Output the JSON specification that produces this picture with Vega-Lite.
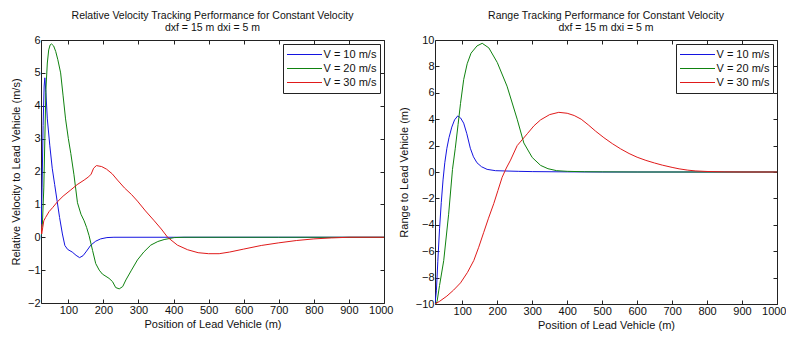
{
  "$schema": "https://vega.github.io/schema/vega-lite/v6.json",
  "background": "white",
  "padding": {"left": 9, "top": 10, "right": 5, "bottom": 5},
  "bounds": "flush",
  "spacing": 51,
  "config": {
    "font": "Liberation Sans",
    "view": {"stroke": "#222", "strokeWidth": 1},
    "axis": {"domain": false, "grid": false, "tickColor": "#222", "tickSize": -4, "labelFont": "Liberation Sans", "labelFontSize": 11, "labelColor": "#111", "titleFont": "Liberation Sans", "titleFontSize": 11, "titleFontWeight": "normal", "titleColor": "#111", "labelPadding": 5, "labelOverlap": false},
    "axisY": {"labelFlush": false},
    "axisX": {"labelFlush": 1, "labelFlushOffset": 9, "format": "d"},
    "title": {"font": "Liberation Sans", "fontSize": 10.5, "fontWeight": "normal", "color": "#111", "lineHeight": 11.5},
    "legend": {"labelFont": "Liberation Sans", "labelFontSize": 11, "labelColor": "#111"}
  },
  "datasets": {
    "velocity": [
      {"V": "V = 10 m/s", "x": 22, "y": 0.05}, {"V": "V = 10 m/s", "x": 25, "y": 1.5}, {"V": "V = 10 m/s", "x": 28, "y": 3.4}, {"V": "V = 10 m/s", "x": 31, "y": 4.6}, {"V": "V = 10 m/s", "x": 33, "y": 4.85}, {"V": "V = 10 m/s", "x": 36, "y": 4.4}, {"V": "V = 10 m/s", "x": 40, "y": 3.6}, {"V": "V = 10 m/s", "x": 47, "y": 2.8}, {"V": "V = 10 m/s", "x": 54, "y": 2.1}, {"V": "V = 10 m/s", "x": 61, "y": 1.6}, {"V": "V = 10 m/s", "x": 68, "y": 1.1}, {"V": "V = 10 m/s", "x": 75, "y": 0.6}, {"V": "V = 10 m/s", "x": 83, "y": 0.1}, {"V": "V = 10 m/s", "x": 90, "y": -0.25}, {"V": "V = 10 m/s", "x": 98, "y": -0.37}, {"V": "V = 10 m/s", "x": 111, "y": -0.45}, {"V": "V = 10 m/s", "x": 122, "y": -0.55}, {"V": "V = 10 m/s", "x": 132, "y": -0.62}, {"V": "V = 10 m/s", "x": 142, "y": -0.56}, {"V": "V = 10 m/s", "x": 152, "y": -0.42}, {"V": "V = 10 m/s", "x": 164, "y": -0.24}, {"V": "V = 10 m/s", "x": 178, "y": -0.12}, {"V": "V = 10 m/s", "x": 192, "y": -0.05}, {"V": "V = 10 m/s", "x": 210, "y": -0.01}, {"V": "V = 10 m/s", "x": 230, "y": 0}, {"V": "V = 10 m/s", "x": 400, "y": 0}, {"V": "V = 10 m/s", "x": 700, "y": 0}, {"V": "V = 10 m/s", "x": 1000, "y": 0},
      {"V": "V = 20 m/s", "x": 22, "y": 0.05}, {"V": "V = 20 m/s", "x": 26, "y": 0.4}, {"V": "V = 20 m/s", "x": 30, "y": 1.5}, {"V": "V = 20 m/s", "x": 33, "y": 3.0}, {"V": "V = 20 m/s", "x": 36, "y": 4.5}, {"V": "V = 20 m/s", "x": 40, "y": 5.3}, {"V": "V = 20 m/s", "x": 44, "y": 5.7}, {"V": "V = 20 m/s", "x": 48, "y": 5.85}, {"V": "V = 20 m/s", "x": 52, "y": 5.88}, {"V": "V = 20 m/s", "x": 58, "y": 5.82}, {"V": "V = 20 m/s", "x": 64, "y": 5.65}, {"V": "V = 20 m/s", "x": 70, "y": 5.4}, {"V": "V = 20 m/s", "x": 78, "y": 5.0}, {"V": "V = 20 m/s", "x": 85, "y": 4.3}, {"V": "V = 20 m/s", "x": 92, "y": 3.6}, {"V": "V = 20 m/s", "x": 100, "y": 3.0}, {"V": "V = 20 m/s", "x": 107, "y": 2.55}, {"V": "V = 20 m/s", "x": 116, "y": 1.9}, {"V": "V = 20 m/s", "x": 126, "y": 1.05}, {"V": "V = 20 m/s", "x": 136, "y": 0.7}, {"V": "V = 20 m/s", "x": 145, "y": 0.5}, {"V": "V = 20 m/s", "x": 152, "y": 0.3}, {"V": "V = 20 m/s", "x": 159, "y": 0.05}, {"V": "V = 20 m/s", "x": 169, "y": -0.4}, {"V": "V = 20 m/s", "x": 178, "y": -0.8}, {"V": "V = 20 m/s", "x": 188, "y": -1.0}, {"V": "V = 20 m/s", "x": 197, "y": -1.12}, {"V": "V = 20 m/s", "x": 216, "y": -1.25}, {"V": "V = 20 m/s", "x": 226, "y": -1.35}, {"V": "V = 20 m/s", "x": 235, "y": -1.53}, {"V": "V = 20 m/s", "x": 245, "y": -1.57}, {"V": "V = 20 m/s", "x": 255, "y": -1.5}, {"V": "V = 20 m/s", "x": 264, "y": -1.3}, {"V": "V = 20 m/s", "x": 280, "y": -1.0}, {"V": "V = 20 m/s", "x": 297, "y": -0.69}, {"V": "V = 20 m/s", "x": 315, "y": -0.45}, {"V": "V = 20 m/s", "x": 335, "y": -0.24}, {"V": "V = 20 m/s", "x": 355, "y": -0.13}, {"V": "V = 20 m/s", "x": 373, "y": -0.07}, {"V": "V = 20 m/s", "x": 402, "y": -0.01}, {"V": "V = 20 m/s", "x": 430, "y": 0}, {"V": "V = 20 m/s", "x": 700, "y": 0}, {"V": "V = 20 m/s", "x": 1000, "y": 0},
      {"V": "V = 30 m/s", "x": 22, "y": 0.4}, {"V": "V = 30 m/s", "x": 24, "y": 0.1}, {"V": "V = 30 m/s", "x": 27, "y": 0.3}, {"V": "V = 30 m/s", "x": 30, "y": 0.5}, {"V": "V = 30 m/s", "x": 35, "y": 0.6}, {"V": "V = 30 m/s", "x": 45, "y": 0.78}, {"V": "V = 30 m/s", "x": 55, "y": 0.9}, {"V": "V = 30 m/s", "x": 69, "y": 1.08}, {"V": "V = 30 m/s", "x": 85, "y": 1.25}, {"V": "V = 30 m/s", "x": 107, "y": 1.44}, {"V": "V = 30 m/s", "x": 125, "y": 1.6}, {"V": "V = 30 m/s", "x": 145, "y": 1.74}, {"V": "V = 30 m/s", "x": 158, "y": 1.84}, {"V": "V = 30 m/s", "x": 165, "y": 1.92}, {"V": "V = 30 m/s", "x": 172, "y": 2.1}, {"V": "V = 30 m/s", "x": 180, "y": 2.18}, {"V": "V = 30 m/s", "x": 195, "y": 2.15}, {"V": "V = 30 m/s", "x": 209, "y": 2.07}, {"V": "V = 30 m/s", "x": 225, "y": 1.93}, {"V": "V = 30 m/s", "x": 240, "y": 1.74}, {"V": "V = 30 m/s", "x": 260, "y": 1.5}, {"V": "V = 30 m/s", "x": 280, "y": 1.3}, {"V": "V = 30 m/s", "x": 297, "y": 1.1}, {"V": "V = 30 m/s", "x": 320, "y": 0.8}, {"V": "V = 30 m/s", "x": 345, "y": 0.5}, {"V": "V = 30 m/s", "x": 365, "y": 0.25}, {"V": "V = 30 m/s", "x": 383, "y": 0.0}, {"V": "V = 30 m/s", "x": 411, "y": -0.24}, {"V": "V = 30 m/s", "x": 440, "y": -0.38}, {"V": "V = 30 m/s", "x": 470, "y": -0.47}, {"V": "V = 30 m/s", "x": 500, "y": -0.5}, {"V": "V = 30 m/s", "x": 530, "y": -0.5}, {"V": "V = 30 m/s", "x": 560, "y": -0.45}, {"V": "V = 30 m/s", "x": 600, "y": -0.36}, {"V": "V = 30 m/s", "x": 650, "y": -0.25}, {"V": "V = 30 m/s", "x": 700, "y": -0.17}, {"V": "V = 30 m/s", "x": 750, "y": -0.1}, {"V": "V = 30 m/s", "x": 800, "y": -0.05}, {"V": "V = 30 m/s", "x": 850, "y": -0.02}, {"V": "V = 30 m/s", "x": 900, "y": 0}, {"V": "V = 30 m/s", "x": 1000, "y": 0}
    ],
    "range": [
      {"V": "V = 10 m/s", "x": 22, "y": -10}, {"V": "V = 10 m/s", "x": 26, "y": -9}, {"V": "V = 10 m/s", "x": 30, "y": -6.8}, {"V": "V = 10 m/s", "x": 35, "y": -4.3}, {"V": "V = 10 m/s", "x": 40, "y": -2.3}, {"V": "V = 10 m/s", "x": 45, "y": -0.6}, {"V": "V = 10 m/s", "x": 50, "y": 0.7}, {"V": "V = 10 m/s", "x": 56, "y": 1.8}, {"V": "V = 10 m/s", "x": 62, "y": 2.6}, {"V": "V = 10 m/s", "x": 70, "y": 3.4}, {"V": "V = 10 m/s", "x": 78, "y": 3.95}, {"V": "V = 10 m/s", "x": 87, "y": 4.25}, {"V": "V = 10 m/s", "x": 95, "y": 4.1}, {"V": "V = 10 m/s", "x": 104, "y": 3.7}, {"V": "V = 10 m/s", "x": 113, "y": 2.9}, {"V": "V = 10 m/s", "x": 123, "y": 1.8}, {"V": "V = 10 m/s", "x": 132, "y": 1.15}, {"V": "V = 10 m/s", "x": 142, "y": 0.7}, {"V": "V = 10 m/s", "x": 155, "y": 0.4}, {"V": "V = 10 m/s", "x": 171, "y": 0.2}, {"V": "V = 10 m/s", "x": 195, "y": 0.1}, {"V": "V = 10 m/s", "x": 220, "y": 0.08}, {"V": "V = 10 m/s", "x": 260, "y": 0.05}, {"V": "V = 10 m/s", "x": 300, "y": 0.03}, {"V": "V = 10 m/s", "x": 400, "y": 0.01}, {"V": "V = 10 m/s", "x": 500, "y": 0}, {"V": "V = 10 m/s", "x": 1000, "y": 0},
      {"V": "V = 20 m/s", "x": 24, "y": -10}, {"V": "V = 20 m/s", "x": 28, "y": -9.8}, {"V": "V = 20 m/s", "x": 35, "y": -8.6}, {"V": "V = 20 m/s", "x": 47, "y": -6.7}, {"V": "V = 20 m/s", "x": 61, "y": -3.2}, {"V": "V = 20 m/s", "x": 72, "y": 0.2}, {"V": "V = 20 m/s", "x": 80, "y": 1.8}, {"V": "V = 20 m/s", "x": 88, "y": 3.6}, {"V": "V = 20 m/s", "x": 95, "y": 5.2}, {"V": "V = 20 m/s", "x": 104, "y": 7.0}, {"V": "V = 20 m/s", "x": 114, "y": 8.2}, {"V": "V = 20 m/s", "x": 125, "y": 9.0}, {"V": "V = 20 m/s", "x": 142, "y": 9.55}, {"V": "V = 20 m/s", "x": 157, "y": 9.75}, {"V": "V = 20 m/s", "x": 176, "y": 9.4}, {"V": "V = 20 m/s", "x": 200, "y": 8.3}, {"V": "V = 20 m/s", "x": 228, "y": 6.5}, {"V": "V = 20 m/s", "x": 257, "y": 4.0}, {"V": "V = 20 m/s", "x": 276, "y": 2.2}, {"V": "V = 20 m/s", "x": 300, "y": 1.1}, {"V": "V = 20 m/s", "x": 324, "y": 0.5}, {"V": "V = 20 m/s", "x": 345, "y": 0.25}, {"V": "V = 20 m/s", "x": 370, "y": 0.1}, {"V": "V = 20 m/s", "x": 400, "y": 0.05}, {"V": "V = 20 m/s", "x": 450, "y": 0.02}, {"V": "V = 20 m/s", "x": 500, "y": 0.01}, {"V": "V = 20 m/s", "x": 600, "y": 0}, {"V": "V = 20 m/s", "x": 1000, "y": 0},
      {"V": "V = 30 m/s", "x": 22, "y": -10}, {"V": "V = 30 m/s", "x": 35, "y": -9.8}, {"V": "V = 30 m/s", "x": 56, "y": -9.4}, {"V": "V = 30 m/s", "x": 75, "y": -8.95}, {"V": "V = 30 m/s", "x": 95, "y": -8.4}, {"V": "V = 30 m/s", "x": 115, "y": -7.6}, {"V": "V = 30 m/s", "x": 133, "y": -6.7}, {"V": "V = 30 m/s", "x": 147, "y": -5.7}, {"V": "V = 30 m/s", "x": 161, "y": -4.6}, {"V": "V = 30 m/s", "x": 175, "y": -3.5}, {"V": "V = 30 m/s", "x": 190, "y": -2.4}, {"V": "V = 30 m/s", "x": 202, "y": -1.4}, {"V": "V = 30 m/s", "x": 214, "y": -0.4}, {"V": "V = 30 m/s", "x": 226, "y": 0.3}, {"V": "V = 30 m/s", "x": 238, "y": 0.9}, {"V": "V = 30 m/s", "x": 257, "y": 2.0}, {"V": "V = 30 m/s", "x": 286, "y": 2.9}, {"V": "V = 30 m/s", "x": 305, "y": 3.5}, {"V": "V = 30 m/s", "x": 324, "y": 3.95}, {"V": "V = 30 m/s", "x": 350, "y": 4.35}, {"V": "V = 30 m/s", "x": 376, "y": 4.52}, {"V": "V = 30 m/s", "x": 400, "y": 4.45}, {"V": "V = 30 m/s", "x": 420, "y": 4.28}, {"V": "V = 30 m/s", "x": 440, "y": 4.0}, {"V": "V = 30 m/s", "x": 460, "y": 3.58}, {"V": "V = 30 m/s", "x": 481, "y": 3.1}, {"V": "V = 30 m/s", "x": 505, "y": 2.6}, {"V": "V = 30 m/s", "x": 529, "y": 2.15}, {"V": "V = 30 m/s", "x": 553, "y": 1.75}, {"V": "V = 30 m/s", "x": 577, "y": 1.4}, {"V": "V = 30 m/s", "x": 600, "y": 1.12}, {"V": "V = 30 m/s", "x": 625, "y": 0.88}, {"V": "V = 30 m/s", "x": 650, "y": 0.68}, {"V": "V = 30 m/s", "x": 672, "y": 0.52}, {"V": "V = 30 m/s", "x": 700, "y": 0.35}, {"V": "V = 30 m/s", "x": 720, "y": 0.24}, {"V": "V = 30 m/s", "x": 745, "y": 0.14}, {"V": "V = 30 m/s", "x": 768, "y": 0.08}, {"V": "V = 30 m/s", "x": 800, "y": 0.04}, {"V": "V = 30 m/s", "x": 850, "y": 0.01}, {"V": "V = 30 m/s", "x": 900, "y": 0}, {"V": "V = 30 m/s", "x": 1000, "y": 0}
    ]
  },
  "resolve": {"scale": {"color": "independent"}, "legend": {"color": "independent"}},
  "hconcat": [
    {
      "width": 343, "height": 263,
      "title": {"text": ["Relative Velocity Tracking Performance for Constant Velocity", "dxf = 15 m dxi = 5 m"], "offset": 1},
      "data": {"name": "velocity"},
      "resolve": {"axis": {"x": "independent", "y": "independent"}},
      "layer": [
        {
          "mark": {"type": "line", "strokeWidth": 1, "clip": true},
          "encoding": {
            "x": {"field": "x", "type": "quantitative", "scale": {"domain": [22, 1000], "nice": false, "zero": false}, "axis": {"values": [100, 200, 300, 400, 500, 600, 700, 800, 900, 1000], "title": "Position of Lead Vehicle (m)", "titlePadding": 3}},
            "y": {"field": "y", "type": "quantitative", "scale": {"domain": [-2, 6], "nice": false}, "axis": {"values": [-2, -1, 0, 1, 2, 3, 4, 5, 6], "title": "Relative Velocity to Lead Vehicle (m/s)", "titlePadding": 6}},
            "color": {"field": "V", "type": "nominal", "scale": {"domain": ["V = 10 m/s", "V = 20 m/s", "V = 30 m/s"], "range": ["#1414e0", "#0f820f", "#e01a1a"]}, "legend": {"title": null, "orient": "top-right", "offset": 4, "symbolType": "stroke", "symbolSize": 1225, "symbolStrokeWidth": 1, "clipHeight": 14, "fillColor": "white", "strokeColor": "#222", "padding": 3.5, "rowPadding": 0, "labelOffset": 1}}
          }
        },
        {
          "mark": {"type": "point", "opacity": 0},
          "encoding": {
            "x": {"field": "x", "type": "quantitative", "scale": {"domain": [22, 1000], "nice": false, "zero": false}, "axis": {"orient": "top", "values": [100, 200, 300, 400, 500, 600, 700, 800, 900, 1000], "labels": false, "title": null}},
            "y": {"field": "y", "type": "quantitative", "scale": {"domain": [-2, 6], "nice": false}, "axis": {"orient": "right", "values": [-2, -1, 0, 1, 2, 3, 4, 5, 6], "labels": false, "title": null}}
          }
        }
      ]
    },
    {
      "width": 342, "height": 264,
      "title": {"text": ["Range Tracking Performance for Constant Velocity", "dxf = 15 m dxi = 5 m"], "offset": 1},
      "data": {"name": "range"},
      "resolve": {"axis": {"x": "independent", "y": "independent"}},
      "layer": [
        {
          "mark": {"type": "line", "strokeWidth": 1, "clip": true},
          "encoding": {
            "x": {"field": "x", "type": "quantitative", "scale": {"domain": [22, 1000], "nice": false, "zero": false}, "axis": {"values": [100, 200, 300, 400, 500, 600, 700, 800, 900, 1000], "title": "Position of Lead Vehicle (m)", "titlePadding": 3}},
            "y": {"field": "y", "type": "quantitative", "scale": {"domain": [-10, 10], "nice": false}, "axis": {"values": [-10, -8, -6, -4, -2, 0, 2, 4, 6, 8, 10], "title": "Range to Lead Vehicle (m)", "titlePadding": 6}},
            "color": {"field": "V", "type": "nominal", "scale": {"domain": ["V = 10 m/s", "V = 20 m/s", "V = 30 m/s"], "range": ["#1414e0", "#0f820f", "#e01a1a"]}, "legend": {"title": null, "orient": "top-right", "offset": 4, "symbolType": "stroke", "symbolSize": 1225, "symbolStrokeWidth": 1, "clipHeight": 14, "fillColor": "white", "strokeColor": "#222", "padding": 3.5, "rowPadding": 0, "labelOffset": 1}}
          }
        },
        {
          "mark": {"type": "point", "opacity": 0},
          "encoding": {
            "x": {"field": "x", "type": "quantitative", "scale": {"domain": [22, 1000], "nice": false, "zero": false}, "axis": {"orient": "top", "values": [100, 200, 300, 400, 500, 600, 700, 800, 900, 1000], "labels": false, "title": null}},
            "y": {"field": "y", "type": "quantitative", "scale": {"domain": [-10, 10], "nice": false}, "axis": {"orient": "right", "values": [-10, -8, -6, -4, -2, 0, 2, 4, 6, 8, 10], "labels": false, "title": null}}
          }
        }
      ]
    }
  ]
}
